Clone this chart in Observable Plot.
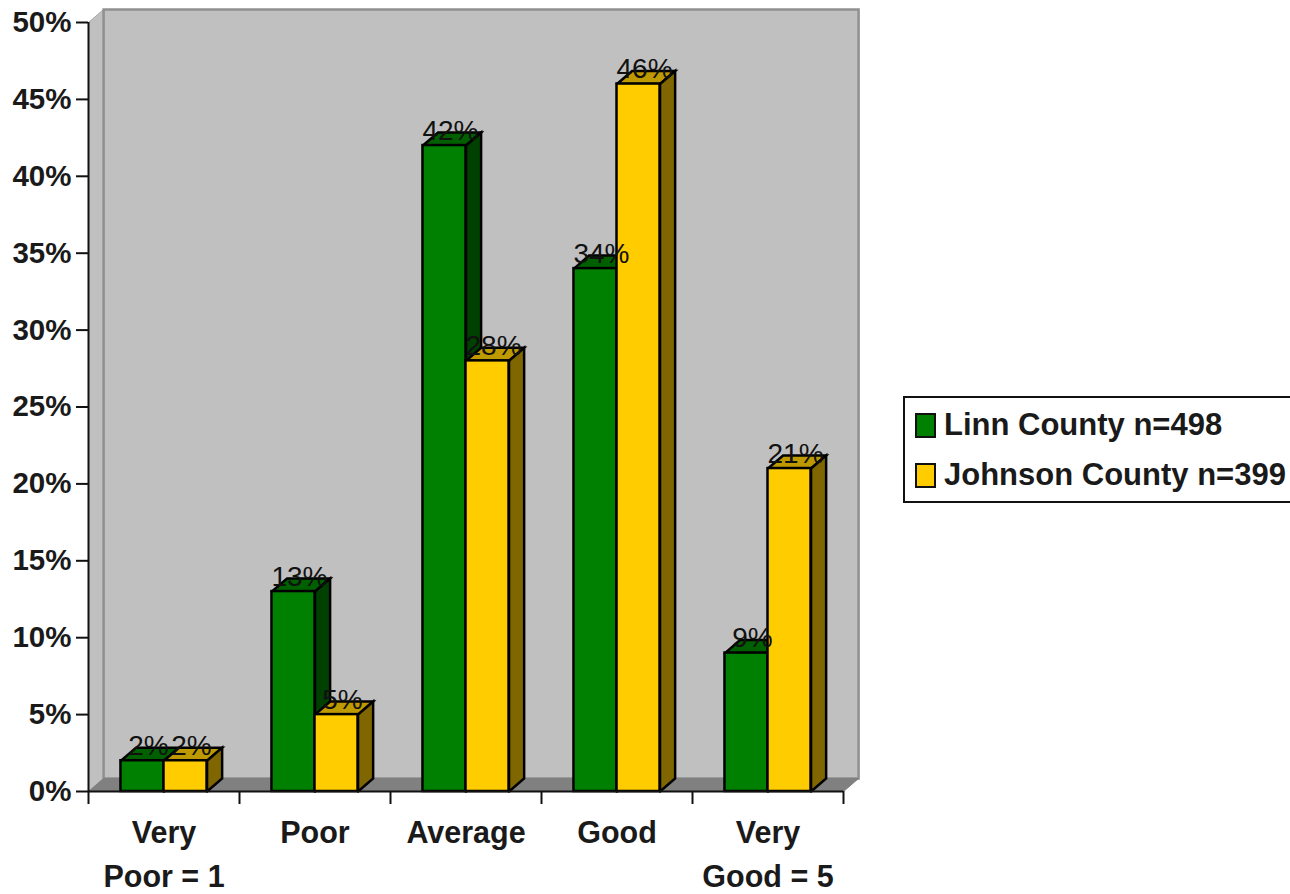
<!DOCTYPE html>
<html>
<head>
<meta charset="utf-8">
<script src="https://cdn.jsdelivr.net/npm/d3@7"></script>
<script src="https://cdn.jsdelivr.net/npm/@observablehq/plot@0.6"></script>
<style>
  html, body { margin: 0; background: #fff; }
  #chart { position: relative; width: 1290px; height: 894px; overflow: hidden; }
  #legend {
    position: absolute; left: 903px; top: 396px; width: 390px; height: 103px;
    border: 2px solid #111; box-sizing: content-box; margin: 0; padding: 0;
    font: bold 31px "Liberation Sans", Arial, sans-serif; color: #1a1a1a;
    background: #fff;
  }
  #legend .row { position: absolute; left: 10px; display: flex; align-items: center; height: 26px; white-space: nowrap; }
  #legend .swatch { width: 17px; height: 21px; border: 2px solid #111; margin-right: 8px; flex: none; }
</style>
</head>
<body>
<div id="chart"></div>
<script>
// Self-rated ratings for two counties, in percent of respondents
const categories = ["Very\nPoor = 1", "Poor", "Average", "Good", "Very\nGood = 5"];
const linn = [2, 13, 42, 34, 9];
const johnson = [2, 5, 28, 46, 21];
const seriesNames = ["Linn County n=498", "Johnson County n=399"];
const yTicks = [0, 5, 10, 15, 20, 25, 30, 35, 40, 45, 50];

const palette = [
  {front: "#008000", side: "#004000", top: "#006000"},
  {front: "#ffcc00", side: "#806600", top: "#bf9900"}
];

// Depth of the fake perspective, in scale units (x: categories, y: percent)
const depthX = 0.1;
const depthY = 0.85;
const halfGroup = 0.285;
const yMax = 50;
const n = categories.length;

const poly = (pts) => [...pts, pts[0]].map(([x, y]) => ({x, y}));

const face = (pts, fill, stroke = "#000", strokeWidth = 2.5) =>
  Plot.line(poly(pts), {x: "x", y: "y", fill, stroke, strokeWidth, strokeLinejoin: "miter", strokeMiterlimit: 4});

// The box behind the bars: left wall, back wall and floor
const shell = [
  face([[0, 0], [depthX, depthY], [depthX, yMax + depthY], [0, yMax]], "#c0c0c0", "#a6a6a6", 1),
  face([[depthX, depthY], [n + depthX, depthY], [n + depthX, yMax + depthY], [depthX, yMax + depthY]], "#c0c0c0", "#909090", 2.5),
  face([[0, 0], [n, 0], [n + depthX, depthY], [depthX, depthY]], "#808080", "#808080", 1)
];

// One 3D column per value: top face, side face, then front
const columns = [linn, johnson].flatMap((values, s) => {
  const colors = palette[s];
  return values.flatMap((v, i) => {
    const x1 = i + 0.5 + (s === 0 ? -halfGroup : 0);
    const x2 = i + 0.5 + (s === 0 ? 0 : halfGroup);
    return [
      face([[x1, v], [x2, v], [x2 + depthX, v + depthY], [x1 + depthX, v + depthY]], colors.top),
      face([[x2, 0], [x2 + depthX, depthY], [x2 + depthX, v + depthY], [x2, v]], colors.side),
      Plot.rect([{x1, x2, y1: 0, y2: v}], {x1: "x1", x2: "x2", y1: "y1", y2: "y2", fill: colors.front, stroke: "#000", strokeWidth: 2.5})
    ];
  });
});

// Value labels sit over the column tops
const labelRows = [linn, johnson].flatMap((values, s) =>
  values.map((v, i) => ({x: i + 0.5 + (s === 0 ? -halfGroup / 2 : halfGroup / 2), y: v, text: `${v}%`}))
);

const fontFamily = '"Liberation Sans", Arial, sans-serif';

const chart = Plot.plot({
  width: 1290,
  height: 894,
  marginTop: 22,
  marginBottom: 103,
  marginLeft: 88,
  marginRight: 447,
  style: {fontFamily, background: "transparent", color: "#1a1a1a"},
  x: {domain: [0, n], axis: null},
  y: {domain: [0, yMax], axis: null},
  marks: [
    ...shell,
    ...columns,
    Plot.text(labelRows, {x: "x", y: "y", text: "text", dx: 6, dy: -6, lineAnchor: "bottom", fontSize: 28, fill: "#111"}),
    Plot.ruleY([0], {stroke: "#111", strokeWidth: 2}),
    Plot.ruleX([0], {stroke: "#111", strokeWidth: 2}),
    Plot.axisY({ticks: yTicks, tickSize: 12, tickPadding: 5, tickFormat: (d) => `${d}%`, label: null,
      fontSize: 29.5, fontWeight: "bold", stroke: "#111", strokeWidth: 2}),
    Plot.axisX({ticks: d3.range(n + 1), tickSize: 13, tickFormat: () => "", label: null, stroke: "#111", strokeWidth: 2}),
    Plot.text(categories, {x: (_, i) => i + 0.5, y: () => 0, text: (d) => d, frameAnchor: "bottom",
      lineAnchor: "top", dy: 21, lineHeight: 1.42, fontSize: 30.5, fontWeight: "bold", fill: "#1a1a1a"})
  ]
});

const holder = document.getElementById("chart");
holder.append(chart);

// Legend box to the right of the plot
const legend = document.createElement("div");
legend.id = "legend";
seriesNames.forEach((name, s) => {
  const row = document.createElement("div");
  row.className = "row";
  row.style.top = (s === 0 ? 14 : 64) + "px";
  const swatch = document.createElement("span");
  swatch.className = "swatch";
  swatch.style.background = palette[s].front;
  const label = document.createElement("span");
  label.textContent = name;
  row.append(swatch, label);
  legend.append(row);
});
holder.append(legend);
</script>
</body>
</html>
